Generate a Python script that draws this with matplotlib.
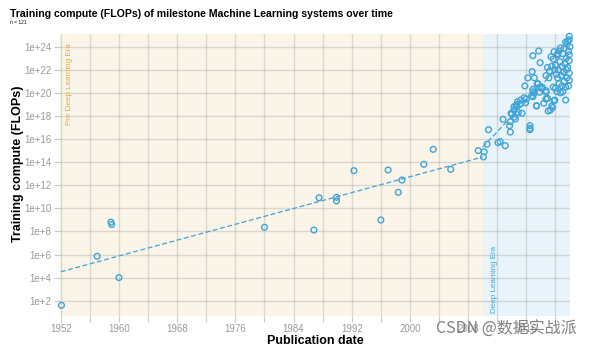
import numpy as np
import matplotlib.pyplot as plt
from matplotlib.ticker import FixedLocator

# publication year and log10(training FLOPs)
pre_years = [1952.1, 1957.0, 1958.9, 1959.0, 1960.0, 1980.0, 1986.8, 1987.5,
             1989.9, 1989.9, 1992.3, 1996.0, 1997.0, 1998.4, 1998.9, 2001.9,
             2003.2, 2005.6, 2009.4]
pre_logflops = [1.6, 5.85, 8.8, 8.6, 4.0, 8.36, 8.12, 10.92,
                10.96, 10.64, 13.26, 8.99, 13.32, 11.39, 12.45, 13.81,
                15.11, 13.38, 15.0]

dl_years = [2010.1, 2010.2, 2010.6, 2010.8, 2012.1, 2012.4, 2013.1, 2012.8,
            2013.7, 2013.8, 2014.0, 2014.6, 2014.5, 2014.3, 2014.7, 2015.4,
            2015.2, 2016.0, 2015.9, 2016.5, 2016.5, 2016.5, 2016.9, 2017.4,
            2017.8, 2018.4, 2018.7, 2019.0, 2019.3, 2019.6, 2019.8, 2018.7,
            2018.1, 2020.0, 2020.2, 2021.0, 2021.4, 2015.8, 2016.9, 2013.8,
            2014.3, 2014.9, 2014.6, 2015.7, 2016.7, 2016.9, 2015.2, 2014.8,
            2013.9, 2014.3, 2019.5, 2019.9, 2017.4, 2016.9, 2017.7, 2017.9,
            2016.8, 2016.2, 2017.1, 2017.6, 2018.7, 2019.1, 2019.7, 2020.3,
            2020.3, 2019.7, 2020.5, 2021.2, 2021.6, 2021.9, 2017.1, 2017.5,
            2017.8, 2018.2, 2018.7, 2018.9, 2020.7, 2019.4, 2019.8, 2020.3,
            2020.0, 2020.4, 2020.6, 2020.9, 2021.1, 2021.3, 2021.5, 2021.7,
            2021.9, 2021.9, 2021.6, 2021.2, 2020.8, 2020.5, 2021.8, 2021.9,
            2022.0, 2021.4, 2021.0, 2020.7, 2021.8, 2019.9, 2019.5, 2020.1,
            2021.4, 2021.9, 2021.5, 2020.9, 2019.2, 2018.9, 2021.9, 2021.7]
dl_logflops = [14.45, 14.9, 15.55, 16.81, 15.69, 15.78, 15.43, 17.71,
               17.16, 16.61, 18.17, 18.17, 17.74, 18.8, 19.0, 18.23,
               19.38, 19.47, 19.15, 17.16, 16.93, 16.81, 19.67, 18.9,
               20.05, 19.1, 19.47, 18.43, 18.52, 18.72, 19.32, 20.05,
               20.4, 20.4, 20.1, 20.1, 19.38, 20.6, 20.3, 17.5,
               17.89, 18.29, 18.86, 19.58, 19.73, 20.1, 19.04, 19.24,
               18.23, 18.52, 18.86, 19.38, 18.86, 23.22, 23.63, 22.61,
               21.84, 21.3, 21.3, 20.8, 21.5, 21.3, 20.5, 21.3,
               23.28, 22.93, 23.63, 23.86, 24.2, 24.6, 20.0, 20.77,
               20.48, 20.48, 20.19, 19.53, 20.0, 23.13, 23.57, 23.4,
               22.4, 22.0, 22.7, 22.3, 21.8, 22.5, 23.0, 22.2,
               23.3, 21.7, 21.3, 21.0, 21.5, 20.8, 20.6, 22.8,
               24.0, 24.4, 23.4, 23.9, 23.6, 22.0, 22.3, 21.6,
               20.5, 21.1, 22.0, 20.6, 21.9, 22.2, 24.9, 24.5]

# trend line end points (year, log10 FLOPs)
pre_trend_years = [1952.0, 2010.0]
pre_trend_log = [4.5, 14.45]
dl_trend_years = [2010.0, 2022.0]
dl_trend_log = [15.3, 23.3]

dl_start = 2010.0
xticks = np.arange(1952, 2024, 4)
yticks = np.arange(2, 26, 2)

blue = '#40a3d8'
orange = '#e9a83c'

plt.rcParams['font.family'] = ['Liberation Sans', 'DejaVu Sans']

fig = plt.figure(figsize=(5.92, 3.47), dpi=100)
ax = fig.add_axes([60/592, 1 - 315.7/347, 510/592, (315.7 - 34)/347])

ax.axvspan(1900, dl_start, color='#faf5e8', zorder=0, lw=0)
ax.axvspan(dl_start, 2100, color='#e8f4fa', zorder=0, lw=0)

ax.plot(pre_trend_years, 10.0**np.array(pre_trend_log), ls=(0, (4, 2)), color=blue, lw=0.9, zorder=2)
ax.plot(dl_trend_years, 10.0**np.array(dl_trend_log), ls=(0, (4, 2)), color=blue, lw=0.9, zorder=2)

ax.scatter(pre_years, 10.0**np.array(pre_logflops), s=17, facecolors='none',
           edgecolors=blue, linewidths=1.0, zorder=3, clip_on=False)
ax.scatter(dl_years, 10.0**np.array(dl_logflops), s=17, facecolors='none',
           edgecolors=blue, linewidths=1.0, zorder=3, clip_on=False)

ax.set_yscale('log')
ax.set_xlim(1951.9, 2022.0)
ax.set_ylim(10**0.7, 10**25.1)

ax.yaxis.set_major_locator(FixedLocator(10.0**yticks))
ax.yaxis.set_minor_locator(FixedLocator([]))
ax.set_yticklabels(['1e+%d' % t for t in yticks])
ax.set_xticks(xticks)
ax.set_xticklabels([str(t) if (t - 1952) % 8 == 0 else '' for t in xticks])

ax.grid(True, color='#808080', alpha=0.25, lw=1.0, zorder=1)
ax.set_axisbelow(True)
for s in ax.spines.values():
    s.set_visible(False)
ax.tick_params(axis='both', colors='#c8c8c8', labelcolor='#9a9a9a', labelsize=7, length=4, width=0.8, pad=2)

ax.set_xlabel('Publication date', fontsize=9, fontweight='bold')
ax.set_ylabel('Training compute (FLOPs)', fontsize=9, fontweight='bold')
ax.xaxis.set_label_coords(0.5, -0.068)
ax.yaxis.set_label_coords(-0.07, 0.54)

ax.text(1953.2, 10**24.3, 'Pre Deep Learning Era', rotation=90, color=orange,
        fontsize=5.8, va='top', ha='center')
ax.text(2011.6, 10**0.9, 'Deep Learning Era', rotation=90, color=blue,
        fontsize=5.8, va='bottom', ha='center')

fig.text(10/592, 1 - 14/347, 'Training compute (FLOPs) of milestone Machine Learning systems over time',
         fontsize=7.6, fontweight='bold', va='center', ha='left')
fig.text(10/592, 1 - 23/347, 'n = 121', fontsize=3.5, va='center', ha='left')

fig.text(577/592, 1 - 329/347, 'CSDN @数据实战派', fontsize=11.5, color='#6b6b6b', alpha=0.85,
         ha='right', va='center', family=['Noto Sans CJK SC', 'DejaVu Sans'])

fig.savefig('out.png', dpi=100)
